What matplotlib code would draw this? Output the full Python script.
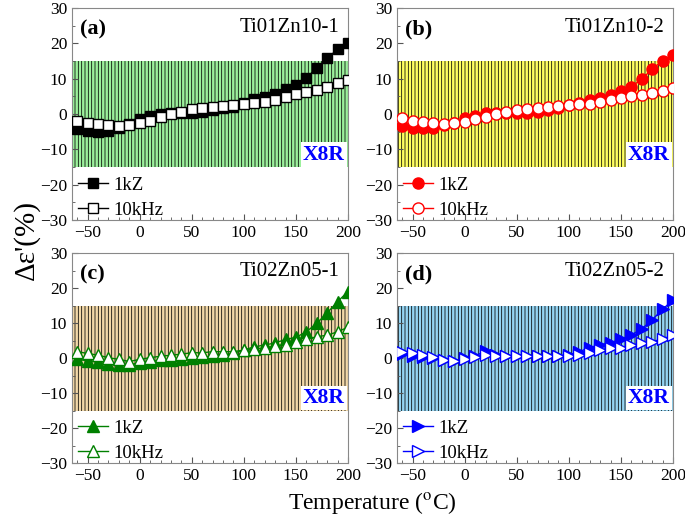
import numpy as np
import matplotlib
matplotlib.use("Agg")
import matplotlib.pyplot as plt
from matplotlib.ticker import MultipleLocator

plt.rcParams['font.family'] = ['Liberation Serif', 'DejaVu Serif']
plt.rcParams['mathtext.fontset'] = 'stix'
plt.rcParams['hatch.linewidth'] = 0.55

# temperatures (degC)
temp = np.arange(-60, 201, 10)

# panel (a) Ti01Zn10-1
a_1k = [-4.3, -4.8, -5.0, -4.8, -4.0, -2.8, -1.3, -0.5, 0.0, 0.2, 0.3, 0.4, 0.7,
        1.2, 1.6, 2.1, 3.2, 4.2, 4.9, 5.7, 7.0, 8.2, 10.3, 12.9, 15.8, 18.3, 20.0]
a_10k = [-1.9, -2.6, -2.8, -3.2, -3.3, -3.0, -2.6, -1.9, -0.9, -0.1, 0.7, 1.3, 1.8,
         2.1, 2.3, 2.5, 2.8, 3.1, 3.5, 4.1, 4.8, 5.6, 6.2, 6.8, 7.7, 8.7, 9.5]
# panel (b) Ti01Zn10-2
b_1k = [-3.4, -3.9, -4.0, -3.9, -3.2, -2.5, -1.2, -0.5, 0.2, 0.4, 0.3, 0.2, 0.4,
        0.5, 1.1, 1.8, 2.5, 3.2, 3.9, 4.5, 5.3, 6.4, 7.7, 9.9, 12.7, 15.1, 16.7]
b_10k = [-1.2, -1.9, -2.4, -2.6, -2.8, -2.6, -2.4, -1.5, -0.9, -0.1, 0.5, 1.0, 1.4,
         1.6, 2.1, 2.3, 2.5, 2.7, 2.8, 3.4, 3.9, 4.6, 5.1, 5.4, 5.9, 6.6, 7.3]
# panel (c) Ti02Zn05-1
c_1k = [-0.4, -0.8, -1.2, -1.7, -2.0, -1.9, -1.4, -1.0, -0.7, -0.5, -0.2, 0.1, 0.3,
        0.5, 0.8, 1.3, 2.3, 3.2, 3.7, 4.3, 5.3, 5.9, 7.5, 9.9, 12.9, 16.1, 19.0]
c_10k = [1.8, 1.3, 0.8, 0.1, -0.4, -1.0, -0.4, 0.1, 0.5, 0.8, 1.1, 1.5, 1.5,
         1.8, 1.8, 1.8, 2.3, 2.5, 3.0, 3.3, 3.8, 4.5, 5.3, 6.1, 6.5, 7.5, 8.8]
# panel (d) Ti02Zn05-2
d_1k = [1.1, 0.6, 0.2, 0.0, -0.5, -0.8, 0.0, 0.6, 2.0, 0.9, 0.6, 0.6, 0.6,
        0.6, 0.6, 0.6, 0.9, 1.8, 3.0, 3.7, 4.4, 5.3, 6.6, 8.3, 10.9, 13.9, 16.6]
d_10k = [1.8, 1.3, 0.9, 0.2, -0.5, -0.9, -0.4, 0.2, 0.9, 0.6, 0.6, 0.6, 0.6,
         0.6, 0.6, 0.6, 0.6, 0.9, 1.3, 2.3, 2.8, 3.0, 3.7, 4.2, 4.7, 5.4, 6.6]

panels = [
    ("(a)", "Ti01Zn10-1", a_1k, a_10k, 'black', 's', '#9bf09b', 7),
    ("(b)", "Ti01Zn10-2", b_1k, b_10k, 'red', 'o', '#ffff60', 8),
    ("(c)", "Ti02Zn05-1", c_1k, c_10k, 'green', '^', '#f2d8a8', 9),
    ("(d)", "Ti02Zn05-2", d_1k, d_10k, 'blue', '>', '#95d4f2', 9),
]

# axes boxes in pixels (left, right, top, bottom)
boxes = [(72, 348, 8, 220), (397, 673, 8, 220), (72, 348, 253, 463), (397, 673, 253, 463)]
W, H = 685, 523

fig = plt.figure(figsize=(W / 100, H / 100), dpi=100)

for (lab, name, y1, y2, col, mk, band, ms), (l, r, t, b) in zip(panels, boxes):
    ax = fig.add_axes([l / W, 1 - b / H, (r - l) / W, (b - t) / H])
    ax.fill_between([-65, 200], -15, 15, facecolor=band, edgecolor='black',
                    hatch='|||||', linewidth=0, zorder=0)
    ax.plot(temp, y1, color=col, marker=mk, ms=ms, mfc=col, mec=col, lw=1,
            label='1kZ', zorder=3)
    ax.plot(temp, y2, color=col, marker=mk, ms=ms, mfc='white', mec=col, lw=1,
            label='10kHz', zorder=4)
    ax.set_xlim(-65, 200)
    ax.set_ylim(-30, 30)
    ax.set_xticks([-50, 0, 50, 100, 150, 200])
    ax.set_yticks([-30, -20, -10, 0, 10, 20, 30])
    ax.xaxis.set_minor_locator(MultipleLocator(10))
    ax.yaxis.set_minor_locator(MultipleLocator(5))
    ax.tick_params(which='both', direction='in', labelsize=12.5, color='#555555')
    ax.tick_params(which='major', length=4)
    ax.tick_params(which='minor', length=2)
    for s in ax.spines.values():
        s.set_color('#888888')
        s.set_linewidth(0.8)
    ax.text(0.03, 0.9, lab, transform=ax.transAxes, fontsize=16,
            fontweight='bold', va='center', ha='left')
    ax.text(0.97, 0.91, name, transform=ax.transAxes, fontsize=15,
            va='center', ha='right')
    ax.text(197, -14.3, 'X8R', color='blue', fontsize=15.5, fontweight='bold',
            ha='right', va='bottom',
            bbox=dict(facecolor='white', edgecolor='none', pad=1.5))
    ax.legend(loc='lower left', bbox_to_anchor=(0, -0.02), frameon=False,
              fontsize=13.5, handlelength=1.6, handletextpad=0.3,
              labelspacing=0.4, borderaxespad=0.1, borderpad=0.2)

fig.text(26 / W, 1 - 240 / H, "Δε'(%)", rotation=90, fontsize=21,
         ha='center', va='center')
fig.text(372 / W, 1 - 503 / H, "Temperature ($^{\\rm o}$C)", fontsize=17,
         ha='center', va='center')

fig.savefig('out.png', dpi=100)
